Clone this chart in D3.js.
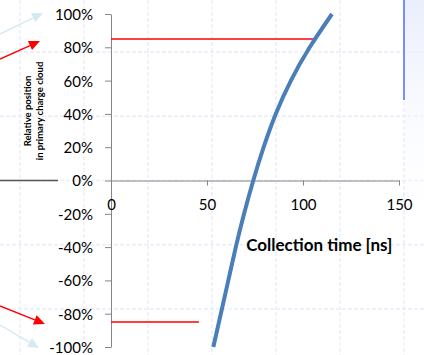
<!DOCTYPE html>
<html>
<head>
<meta charset="utf-8">
<script src="https://cdn.jsdelivr.net/npm/d3@7"></script>
<style>
  html, body { margin: 0; padding: 0; background: #fff; }
  svg { display: block; font-family: Lato, "Open Sans", sans-serif; }
</style>
</head>
<body>
<svg id="chart" width="424" height="355"></svg>
<script>
// Relative position in the primary charge cloud (%) vs. collection time (ns)
const positionPct      = [-100, -80, -60, -40, -20,   0,   20,   40,   60,    80,   100];
const collectionTimeNs = [53.3, 57.2, 61.1, 65.0, 69.3, 74.1, 79.5, 85.8, 93.7, 103.5, 115.1];

// Axis ticks
const xTicks = [0, 50, 100, 150];
const yTicks = [-100, -80, -60, -40, -20, 0, 20, 40, 60, 80, 100];

// Horizontal red markers: level (%) and the time (ns) where each stops
const markerLevelPct = [85, -85];
const markerEndNs    = [106.6, 45.8];

const svg = d3.select("#chart");
const W = 424, H = 355;

const x = d3.scaleLinear().domain([0, 150]).range([111, 399]);
const y = d3.scaleLinear().domain([-100, 100]).range([347, 14]);

// light dashed background grid of the slide
const grid = svg.append("g").attr("stroke", "#e8edfa").attr("stroke-width", 1.4)
  .attr("stroke-dasharray", "4,2");
d3.range(20, W, 64).forEach(gx =>
  grid.append("line").attr("x1", gx).attr("x2", gx).attr("y1", 0).attr("y2", H));
d3.range(52, H, 64.25).forEach(gy =>
  grid.append("line").attr("x1", 0).attr("x2", W).attr("y1", gy).attr("y2", gy));

// tinted panel on the right with its blue edge
const defs = svg.append("defs");
const grad = defs.append("linearGradient").attr("id", "panelFade")
  .attr("x1", 0).attr("y1", 0).attr("x2", 0).attr("y2", 1);
grad.append("stop").attr("offset", "0%").attr("stop-color", "#e9eefc");
grad.append("stop").attr("offset", "100%").attr("stop-color", "#ffffff").attr("stop-opacity", 0);
svg.append("rect").attr("x", 405).attr("y", 0).attr("width", 19).attr("height", 240)
  .attr("fill", "url(#panelFade)");
svg.append("line").attr("x1", 404).attr("x2", 404).attr("y1", 0).attr("y2", 100)
  .attr("stroke", "#7b8ff3").attr("stroke-width", 2);

// axes
const yAxis = d3.axisLeft(y).tickValues(yTicks).tickFormat(d => d + "%")
  .tickSize(6).tickSizeOuter(0).tickPadding(12);
const gy = svg.append("g").attr("transform", `translate(${x(0)},0)`).call(yAxis);

const xAxis = d3.axisBottom(x).tickValues(xTicks).tickSize(5).tickSizeOuter(0).tickPadding(14);
const gx = svg.append("g").attr("transform", `translate(0,${y(0)})`).call(xAxis);

[gy, gx].forEach(g => {
  g.select(".domain").attr("stroke", "#868686");
  g.selectAll(".tick line").attr("stroke", "#868686");
  g.selectAll(".tick text").attr("fill", "#000").style("font-size", "15px")
    .style("font-family", "Lato, 'Open Sans', sans-serif");
});
gy.selectAll(".tick text").attr("dy", "0.36em");

// axis titles
svg.append("text").attr("x", x(108.5)).attr("y", 251).attr("text-anchor", "middle")
  .style("font-size", "17px").style("font-weight", "bold").text("Collection time [ns]");

const yTitle = svg.append("text").attr("transform", "translate(31,111) rotate(-90)")
  .attr("text-anchor", "middle").style("font-size", "9.5px").style("font-weight", "bold");
yTitle.append("tspan").attr("x", 0).attr("dy", 0).text("Relative position");
yTitle.append("tspan").attr("x", 0).attr("dy", "1.3em").text("in primary charge cloud");

// red marker lines
markerLevelPct.forEach((lvl, i) =>
  svg.append("line").attr("x1", x(0)).attr("x2", x(markerEndNs[i]))
    .attr("y1", y(lvl)).attr("y2", y(lvl))
    .attr("stroke", "#ff0000").attr("stroke-width", 1.5));

// collection-time curve
const line = d3.line().x((d, i) => x(collectionTimeNs[i])).y(d => y(d))
  .curve(d3.curveNatural);
svg.append("path").datum(positionPct).attr("d", line)
  .attr("fill", "none").attr("stroke", "#4a7ebb").attr("stroke-width", 4);

// connector line on the left and the pointing arrows
svg.append("line").attr("x1", 0).attr("x2", 58).attr("y1", 180.5).attr("y2", 180.5)
  .attr("stroke", "#555").attr("stroke-width", 1.4);

function arrow(x0, y0, x1, y1, color) {
  const a = Math.atan2(y1 - y0, x1 - x0), len = 11, half = 5;
  const bx = x1 - len * Math.cos(a), by = y1 - len * Math.sin(a);
  svg.append("line").attr("x1", x0).attr("y1", y0).attr("x2", bx).attr("y2", by)
    .attr("stroke", color).attr("stroke-width", 1.4);
  const px = -Math.sin(a) * half, py = Math.cos(a) * half;
  svg.append("path")
    .attr("d", `M${x1},${y1}L${bx + px},${by + py}L${bx - px},${by - py}Z`)
    .attr("fill", color);
}
arrow(0, 34, 43, 13, "#d3eaf0");
arrow(0, 59, 40, 41, "#ff0000");
arrow(0, 306, 45, 324, "#ff0000");
arrow(0, 325, 39, 348, "#d3eaf0");
</script>
</body>
</html>
